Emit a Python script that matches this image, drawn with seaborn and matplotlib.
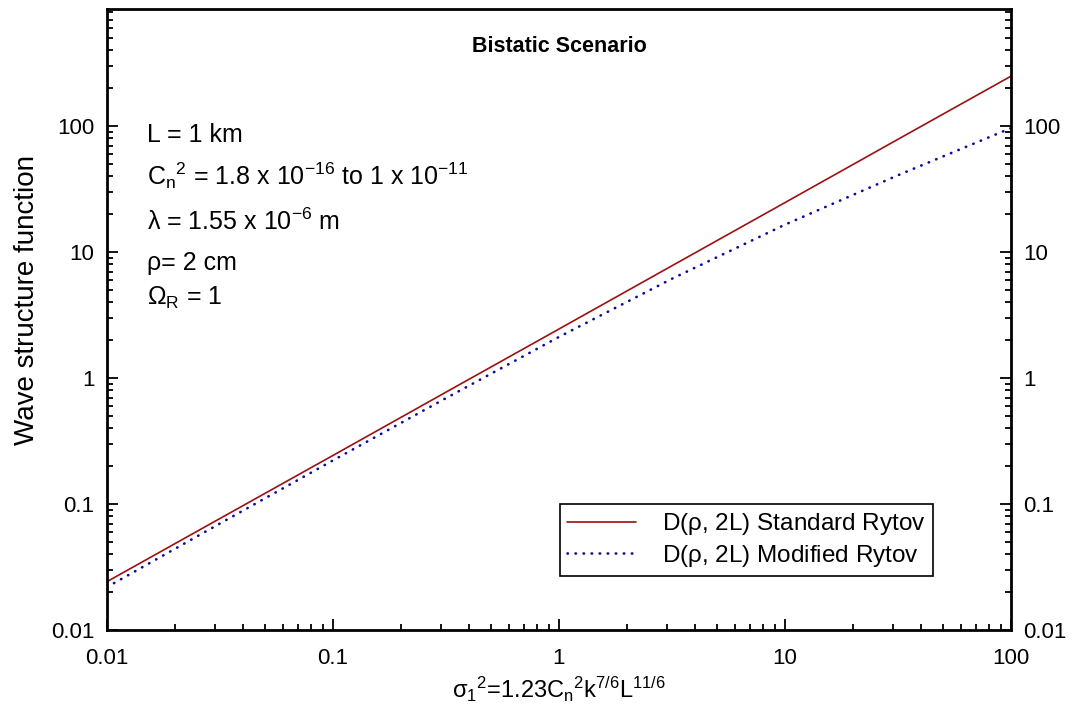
import numpy as np
import pandas as pd
import matplotlib
matplotlib.use("Agg")
import matplotlib.pyplot as plt
from matplotlib.ticker import FuncFormatter, LogLocator
import seaborn as sns

# Rytov variance (x) and wave structure function values
sigma2 = [0.01, 0.0316, 0.1, 0.316, 1, 3.16, 10, 31.6, 100]
d_standard = [0.0242, 0.0767, 0.243, 0.772, 2.45, 7.78, 24.7, 78.5, 249]
d_modified = [0.0219, 0.0700, 0.222, 0.692, 2.12, 6.14, 16.5, 40.7, 96.4]

labels = [r'D($\rho$, 2L) Standard Rytov', r'D($\rho$, 2L) Modified Rytov']
yticks = [0.01, 0.1, 1, 10, 100]
xticks = [0.01, 0.1, 1, 10, 100]

sns.set_style("ticks")
plt.rcParams['font.family'] = ['Liberation Sans', 'DejaVu Sans']
plt.rcParams['mathtext.fontset'] = 'custom'
plt.rcParams['mathtext.rm'] = 'Liberation Sans'
plt.rcParams['mathtext.it'] = 'Liberation Sans'
plt.rcParams['mathtext.sf'] = 'Liberation Sans'
for k in ['text.color', 'axes.labelcolor', 'xtick.color', 'ytick.color']:
    plt.rcParams[k] = 'black'

fig = plt.figure(figsize=(10.72, 7.19), dpi=100)
ax = fig.add_axes([0.0998, 0.1238, 0.8433, 0.8637])

sns.lineplot(x=sigma2, y=d_standard, ax=ax, color='#9b1111', lw=1.2, label=labels[0])
sns.lineplot(x=sigma2, y=d_modified, ax=ax, color='#0a0a9a', lw=1.9,
             dashes=(0.15, 2.9), label=labels[1])
ax.lines[1].set_dash_capstyle('round')

ax.set_xscale('log')
ax.set_yscale('log')
ax.set_xlim(0.01, 100)
ax.set_ylim(0.01, 850)

fmt = FuncFormatter(lambda v, p: f'{v:g}')
ax.xaxis.set_major_formatter(fmt)
ax.yaxis.set_major_formatter(fmt)
ax.set_xticks(xticks)
ax.set_yticks(yticks)
ax.xaxis.set_minor_locator(LogLocator(base=10, subs=np.arange(2, 10)))
ax.yaxis.set_minor_locator(LogLocator(base=10, subs=np.arange(2, 10)))
ax.tick_params(which='both', direction='in', top=False, right=True, labelright=True,
               width=1.3, labelsize=16)
ax.tick_params(which='major', length=8, pad=9)
ax.tick_params(axis='x', which='major', pad=13)
ax.tick_params(which='minor', length=4, labelright=False, labelleft=False, labelbottom=False)

for s in ax.spines.values():
    s.set_visible(True)
    s.set_linewidth(2)
    s.set_color('black')

ax.set_ylabel('Wave structure function', fontsize=20)
ax.yaxis.set_label_coords(-0.074, 0.531)
ax.set_xlabel(r'$\sigma_1$$^2$=1.23C$_n$$^2$k$^{7/6}$L$^{11/6}$', fontsize=17)
ax.xaxis.set_label_coords(0.5, -0.072)

ax.text(0.5, 0.931, 'Bistatic Scenario', transform=ax.transAxes, ha='center',
        va='baseline', fontsize=15.5, fontweight='bold')

notes = ['L = 1 km',
         r'C$_\mathregular{n}$$^\mathregular{2}$ = 1.8 x 10$^\mathregular{-16}$ to 1 x 10$^\mathregular{-11}$',
         'λ = 1.55 x 10$^\mathregular{-6}$ m',
         'ρ= 2 cm',
         r'Ω$_\mathregular{R}$ = 1']
note_y = [0.786, 0.717, 0.644, 0.580, 0.523]
for t, yy in zip(notes, note_y):
    ax.text(0.044, yy, t, transform=ax.transAxes, ha='left', va='baseline', fontsize=18)

leg = ax.legend(loc='lower right', bbox_to_anchor=(0.914, 0.087), borderaxespad=0,
                fontsize=17.5, frameon=True, fancybox=False, edgecolor='black',
                framealpha=1, handlelength=2.8, borderpad=0.3, labelspacing=0.22,
                handletextpad=1.1)
leg.get_frame().set_linewidth(1.2)

fig.savefig('out.png', dpi=100)
